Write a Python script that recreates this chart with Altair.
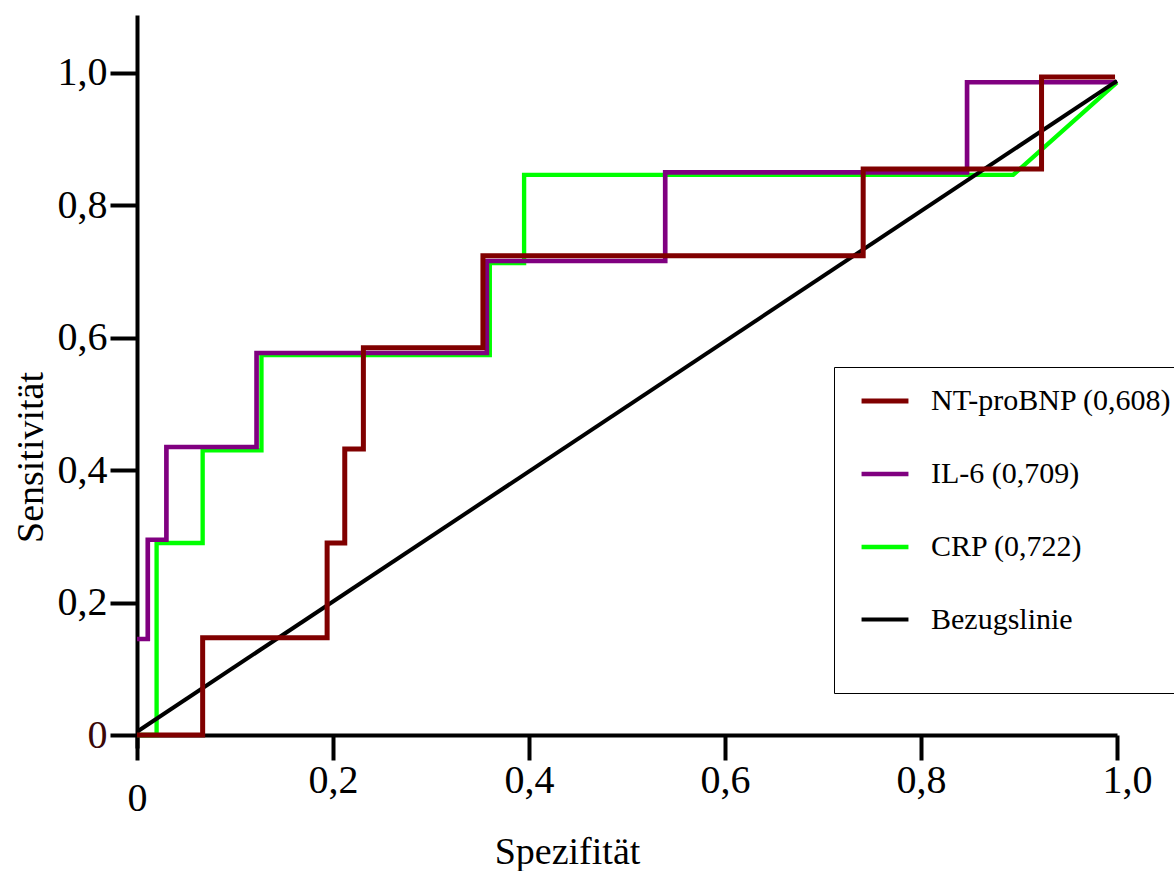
import altair as alt
import pandas as pd

# ---- data ----
series_names = ["NT-proBNP (0,608)", "IL-6 (0,709)", "CRP (0,722)", "Bezugslinie"]
series_colors = ["#800000", "#800080", "#00ff00", "#000000"]
series_widths = [5, 4, 4, 3]

nt_x = [0, 0.067, 0.067, 0.194, 0.194, 0.212, 0.212, 0.231, 0.231, 0.353, 0.353, 0.741, 0.741, 0.923, 0.923, 0.998]
nt_y = [0, 0, 0.147, 0.147, 0.29, 0.29, 0.432, 0.432, 0.585, 0.585, 0.724, 0.724, 0.855, 0.855, 0.994, 0.994]

il6_x = [0, 0.011, 0.011, 0.030, 0.030, 0.122, 0.122, 0.357, 0.357, 0.539, 0.539, 0.847, 0.847, 1.0]
il6_y = [0.145, 0.145, 0.295, 0.295, 0.435, 0.435, 0.577, 0.577, 0.716, 0.716, 0.850, 0.850, 0.986, 0.986]

crp_x = [0, 0.020, 0.020, 0.067, 0.067, 0.127, 0.127, 0.360, 0.360, 0.395, 0.395, 0.894, 1.0]
crp_y = [0, 0, 0.29, 0.29, 0.43, 0.43, 0.574, 0.574, 0.713, 0.713, 0.846, 0.846, 0.986]

ref_x = [0, 1.0]
ref_y = [0.005, 0.988]

tick_values = [0, 0.2, 0.4, 0.6, 0.8, 1.0]

# drawing order: CRP, IL-6, reference, NT-proBNP
rows = []
for name, xs, ys in [
    (series_names[2], crp_x, crp_y),
    (series_names[1], il6_x, il6_y),
    (series_names[3], ref_x, ref_y),
    (series_names[0], nt_x, nt_y),
]:
    for i, (xv, yv) in enumerate(zip(xs, ys)):
        rows.append({"series": name, "x": xv, "y": yv, "i": i})
df = pd.DataFrame(rows)

FONT = "Liberation Serif"
label_expr = "datum.value == 0 ? '0' : replace(format(datum.value, '.1f'), '.', ',')"

x_axis = alt.Axis(
    values=tick_values, labelExpr=label_expr, grid=False,
    domainColor="black", domainWidth=4, tickColor="black", tickWidth=4, tickSize=25,
    labelFont=FONT, labelFontSize=40, labelColor="black",
    labelPadding=alt.condition("datum.value == 0", alt.value(18), alt.value(0)),
    labelOffset=alt.condition("datum.value == 1", alt.value(10), alt.value(0)),
    labelFlush=False, labelOverlap=False, offset=-13,
    title="Spezifität", titleFont=FONT, titleFontSize=38, titleFontWeight="normal",
    titleColor="black", titleX=430, titleY=128, titleBaseline="alphabetic", titleAlign="center",
)
y_axis = alt.Axis(
    values=tick_values, labelExpr=label_expr, grid=False,
    domainColor="black", domainWidth=4, tickColor="black", tickWidth=4, tickSize=27,
    labelFont=FONT, labelFontSize=40, labelPadding=3, labelFlush=False, labelOverlap=False,
    labelColor=alt.condition("datum.value == 0", alt.value("#3a0808"), alt.value("black")),
    title="Sensitivität", titleFont=FONT, titleFontSize=38, titleFontWeight="normal",
    titleColor="black", titleX=-95, titleY=442, titleAngle=270, titleBaseline="alphabetic",
    titleAlign="center",
)

legend = alt.Legend(
    title=" ", titleOrient="bottom", titleFontSize=30, titlePadding=20,
    orient="none", legendX=697, legendY=352,
    strokeColor="black", fillColor="white", padding=8,
    symbolType="stroke", symbolSize=2200, symbolStrokeWidth=5, symbolOffset=17,
    labelFont=FONT, labelFontSize=30, labelColor="black", labelOffset=20,
    rowPadding=32, labelLimit=400,
)

chart = alt.Chart(df).mark_line(strokeCap="butt", strokeJoin="miter").encode(
    x=alt.X("x:Q", scale=alt.Scale(domain=[0, 1.0], nice=False, zero=False), axis=x_axis),
    y=alt.Y("y:Q", scale=alt.Scale(domain=[-0.0196, 1.0876], nice=False, zero=False), axis=y_axis),
    color=alt.Color("series:N", scale=alt.Scale(domain=series_names, range=series_colors), legend=legend),
    strokeWidth=alt.StrokeWidth("series:N", scale=alt.Scale(domain=series_names, range=series_widths), legend=None),
    order=alt.Order("i:Q"),
).properties(
    width=980, height=733,
    padding={"left": 137, "top": 15, "right": 57, "bottom": 123},
    autosize=alt.AutoSizeParams(type="none"),
    background="white",
).configure_view(stroke=None)

chart.save("out.html", embed_options={"renderer": "svg", "actions": False})
